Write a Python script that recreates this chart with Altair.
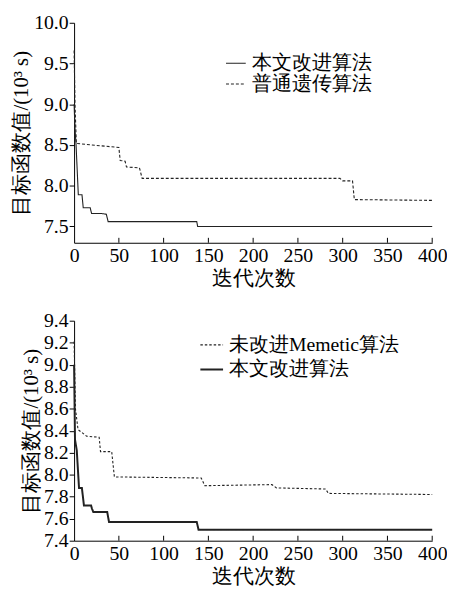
import altair as alt
import pandas as pd

# ---- data ----
top_names = ["本文改进算法", "普通遗传算法"]
top_solid_x = [0, 1, 2.2, 4.7, 8.8, 10.2, 18, 19.5, 30, 36, 38, 137, 138, 400]
top_solid_y = [9.0, 8.7, 8.5, 7.89, 7.89, 7.73, 7.73, 7.66, 7.66, 7.65, 7.56, 7.56, 7.50, 7.50]
top_dash_x = [0, 1, 2.5, 20, 50, 51.5, 57, 58.5, 73, 76, 297, 300, 311, 313, 400]
top_dash_y = [9.66, 9.0, 8.52, 8.50, 8.47, 8.31, 8.30, 8.23, 8.22, 8.09, 8.09, 8.06, 8.06, 7.83, 7.82]

bot_names = ["未改进Memetic算法", "本文改进算法"]
bot_dash_x = [0, 1.5, 4.4, 14, 28, 29.5, 42, 45, 142, 146, 221, 226, 281, 284, 400]
bot_dash_y = [9.21, 8.6, 8.41, 8.35, 8.34, 8.21, 8.21, 7.98, 7.97, 7.90, 7.91, 7.88, 7.87, 7.83, 7.82]
bot_solid_x = [0, 1, 3, 5.5, 8.7, 11, 19, 20, 21.5, 37, 39, 137, 139, 400]
bot_solid_y = [9.0, 8.32, 8.22, 7.88, 7.88, 7.72, 7.72, 7.69, 7.66, 7.66, 7.57, 7.57, 7.50, 7.50]

x_ticks = [0, 50, 100, 150, 200, 250, 300, 350, 400]
top_y_ticks = [7.5, 8.0, 8.5, 9.0, 9.5, 10.0]
bot_y_ticks = [7.4, 7.6, 7.8, 8.0, 8.2, 8.4, 8.6, 8.8, 9.0, 9.2, 9.4]

FONT = "Liberation Serif"
INK = "#222222"
W, H = 363, 223

def frame(xs, ys, name):
    return pd.DataFrame({"x": xs, "y": ys, "s": name})

top_df = pd.concat([frame(top_solid_x, top_solid_y, top_names[0]),
                    frame(top_dash_x, top_dash_y, top_names[1])])
bot_df = pd.concat([frame(bot_dash_x, bot_dash_y, bot_names[0]),
                    frame(bot_solid_x, bot_solid_y, bot_names[1])])
tick_df = pd.DataFrame({"t": x_ticks[1:]})

x_axis = alt.Axis(values=x_ticks, tickSize=0, labelPadding=3, titlePadding=2,
                  title="迭代次数", labelFont=FONT, titleFont=FONT, labelFontSize=20,
                  titleFontSize=21, labelFlush=False)


def panel(df, names, dashes, widths, ydom, yticks, lx, ly, rowpad, ssize):
    leg = alt.Legend(title=None, orient="none", legendX=lx, legendY=ly, rowPadding=rowpad,
                     labelFont=FONT, labelFontSize=20, symbolSize=ssize)
    lines = alt.Chart(df).mark_line(color=INK).encode(
        x=alt.X("x:Q", scale=alt.Scale(domain=[0, 400], nice=False), axis=x_axis),
        y=alt.Y("y:Q", scale=alt.Scale(domain=ydom, nice=False, zero=False),
                axis=alt.Axis(values=yticks, format=".1f", tickSize=5, labelPadding=1,
                              titlePadding=2, title="目标函数值/(10³ s)",
                              labelFont=FONT, titleFont=FONT, labelFontSize=20,
                              titleFontSize=21, labelFlush=False)),
        strokeDash=alt.StrokeDash("s:N", scale=alt.Scale(domain=names, range=dashes),
                                  legend=leg),
        strokeWidth=alt.StrokeWidth("s:N", scale=alt.Scale(domain=names, range=widths),
                                    legend=leg),
        detail="s:N",
    )
    ticks = alt.Chart(tick_df).mark_rule(color="black").encode(
        x=alt.X("t:Q"), y=alt.value(H), y2=alt.value(H - 5)
    )
    return alt.layer(lines, ticks).properties(width=W, height=H)


top = panel(top_df, top_names, [[1, 0], [3, 2]], [1.1, 1.1], [7.3, 10.0], top_y_ticks,
            153, 30, 0, 400)
bot = panel(bot_df, bot_names, [[2.5, 2], [1, 0]], [1.1, 2.0], [7.4, 9.4], bot_y_ticks,
            127, 12, 2, 529)

chart = alt.vconcat(top, bot, spacing=23).resolve_scale(
    strokeDash="independent", strokeWidth="independent"
).resolve_legend(strokeDash="independent", strokeWidth="independent").properties(
    padding={"left": 3, "top": 1, "right": 0, "bottom": 0}
).configure(
    font=FONT
).configure_view(
    stroke=None
).configure_axis(
    labelColor="black", titleFontWeight="normal", titleColor="black",
    domainColor="black", tickColor="black", grid=False,
).configure_legend(
    labelColor="black", symbolType="stroke",
    symbolStrokeColor=INK, padding=0, labelOffset=5, labelLimit=400,
)

chart.save("out.html", embed_options={"renderer": "svg", "actions": False})
